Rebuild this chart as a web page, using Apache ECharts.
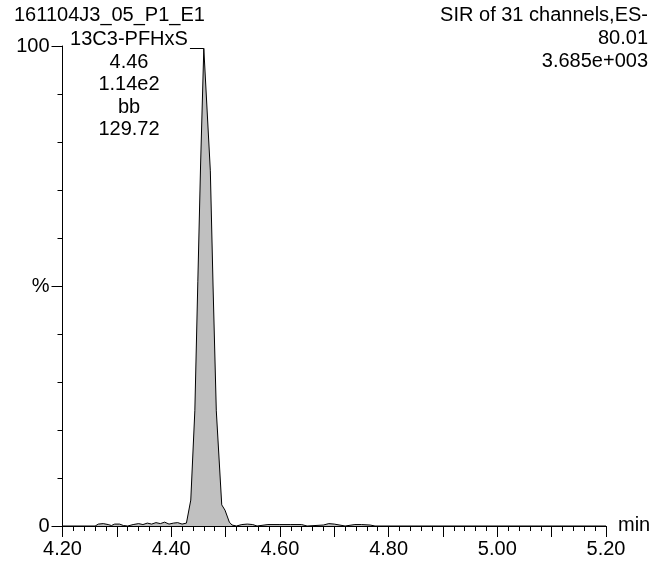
<!DOCTYPE html>
<html>
<head>
<meta charset="utf-8">
<script src="https://cdn.jsdelivr.net/npm/echarts@6/dist/echarts.min.js"></script>
<style>
html,body{margin:0;padding:0;background:#fff;}
#chart{width:653px;height:563px;}
</style>
</head>
<body>
<div id="chart"></div>
<script>
// ---- data ----
var times = [4.200,4.260,4.266,4.275,4.284,4.290,4.296,4.305,4.312,4.320,4.330,4.340,4.348,4.356,4.364,4.372,4.380,4.388,4.396,4.404,4.412,4.420,4.428,4.436,4.4435,4.449,4.454,4.460,4.472,4.477,4.483,4.493,4.499,4.507,4.512,4.520,4.530,4.540,4.550,4.558,4.578,4.600,4.620,4.640,4.650,4.680,4.690,4.700,4.720,4.738,4.750,4.766,4.775,5.200];
var intensity = [0,0,0.4,0.5,0.3,0.1,0.4,0.4,0.1,0,0.3,0.5,0.3,0.6,0.4,0.7,0.5,0.8,0.4,0.6,0.7,0.4,0.6,5.4,24,51,75,99.5,74,50,24,4.4,3.3,0.8,0.2,0,0.3,0.4,0.3,0,0.3,0.3,0.3,0.3,0,0.2,0.5,0.4,0,0.3,0.3,0.2,0,0];
var xTickLabels = ['4.20','4.40','4.60','4.80','5.00','5.20'];
var yTickLabels = {0:'0',50:'%',100:'100'};
var sampleName = '161104J3_05_P1_E1';
var peakLabels = ['13C3-PFHxS','4.46','1.14e2','bb','129.72'];
var headerRight = ['SIR of 31 channels,ES-','80.01','3.685e+003'];
var peakTime = 4.460, peakValue = 99.5, labelEnd = 4.4345;

var FONT = "'Liberation Sans', Arial, Helvetica, sans-serif";
var FS = 20;

var seriesData = times.map(function(t,i){return [t,intensity[i]];});

var graphics = [];
graphics.push({type:'text',x:14,y:15.5,style:{text:sampleName,font:FS+'px '+FONT,fill:'#000',textAlign:'left',textVerticalAlign:'middle'}});
peakLabels.forEach(function(s,i){
  graphics.push({type:'text',x:129,y:39.5+i*22.6,style:{text:s,font:FS+'px '+FONT,fill:'#000',textAlign:'center',textVerticalAlign:'middle'}});
});
headerRight.forEach(function(s,i){
  graphics.push({type:'text',x:648,y:15.5+i*23,style:{text:s,font:FS+'px '+FONT,fill:'#000',textAlign:'right',textVerticalAlign:'middle'}});
});
graphics.push({type:'text',x:618,y:525,style:{text:'min',font:FS+'px '+FONT,fill:'#000',textAlign:'left',textVerticalAlign:'middle'}});

var chart = echarts.init(document.getElementById('chart'));
chart.setOption({
  animation:false,
  backgroundColor:'#fff',
  grid:{left:62.5,right:47,top:46,bottom:37,containLabel:false},
  xAxis:{
    type:'value',min:4.2,max:5.2,interval:0.1,
    axisLine:{show:true,lineStyle:{color:'#000',width:1}},
    axisTick:{show:true,length:11,lineStyle:{color:'#000',width:1}},
    minorTick:{show:true,splitNumber:5,length:5,lineStyle:{color:'#000',width:1}},
    splitLine:{show:false},
    axisLabel:{margin:13,color:'#000',fontSize:FS,fontFamily:FONT,
      formatter:function(v){var s=v.toFixed(2);return xTickLabels.indexOf(s)>=0?s:'';}}
  },
  yAxis:{
    type:'value',min:0,max:100,interval:50,
    axisLine:{show:true,lineStyle:{color:'#000',width:1}},
    axisTick:{show:true,length:11,lineStyle:{color:'#000',width:1}},
    minorTick:{show:true,splitNumber:5,length:5,lineStyle:{color:'#000',width:1}},
    splitLine:{show:false},
    axisLabel:{margin:13,color:'#000',fontSize:FS,fontFamily:FONT,
      formatter:function(v){return yTickLabels[Math.round(v)]!==undefined?yTickLabels[Math.round(v)]:'';}}
  },
  series:[{
    type:'line',data:seriesData,showSymbol:false,symbol:'none',
    lineStyle:{color:'#000',width:1},
    areaStyle:{color:'#c0c0c0',opacity:1},
    markLine:{silent:true,symbol:'none',label:{show:false},
      lineStyle:{color:'#000',width:1,type:'solid'},
      data:[[{coord:[labelEnd,peakValue]},{coord:[peakTime,peakValue]}]]}
  }],
  graphic:graphics
});
</script>
</body>
</html>
